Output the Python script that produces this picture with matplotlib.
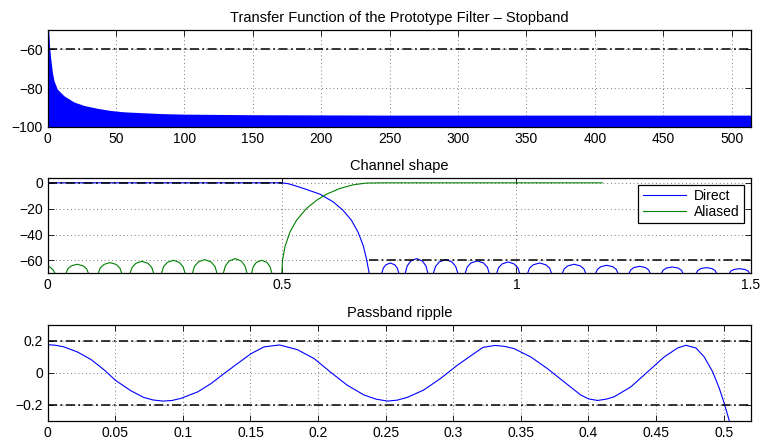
import matplotlib
matplotlib.use("Agg")
import matplotlib.pyplot as plt

plt.rcParams["font.family"] = ["Liberation Sans", "DejaVu Sans"]
plt.rcParams["font.size"] = 10

# stopband of the prototype filter (upper envelope of the dense ripple, dB)
STOP_X = [0, 0.7, 1.4, 2.2, 3.4, 4.6, 7.0, 11.9, 19.2, 26.5, 36.3, 46.0, 55.7,
          70.4, 82.6, 100, 150, 250, 514]
STOP_TOP_DB = [-45, -50, -58.6, -64.7, -71.8, -76.2, -80.5, -84.0, -87.2, -89.0,
               -90.5, -91.6, -92.3, -92.8, -93.2, -93.5, -93.8, -94.0, -94.0]
STOP_LIMIT_DB = -60

# channel shape, direct path (dB)
DIRECT_X = [0, 0.499, 0.512, 0.524, 0.552, 0.581, 0.609, 0.630, 0.648, 0.662, 0.673, 0.680, 0.686, 0.699,
            0.712, 0.716, 0.7215, 0.731, 0.7405, 0.746, 0.750, 0.756,
            0.762, 0.767, 0.7745, 0.787, 0.7995, 0.807, 0.812, 0.817,
            0.822, 0.8275, 0.8355, 0.849, 0.8625, 0.8705, 0.876, 0.883,
            0.890, 0.895, 0.903, 0.9165, 0.930, 0.938, 0.943, 0.950,
            0.957, 0.962, 0.9698, 0.9825, 0.995, 1.003, 1.008, 1.0155,
            1.023, 1.028, 1.036, 1.0495, 1.063, 1.071, 1.076, 1.0865,
            1.097, 1.102, 1.110, 1.123, 1.136, 1.144, 1.149, 1.1585,
            1.168, 1.173, 1.1805, 1.193, 1.2055, 1.213, 1.218, 1.2285,
            1.239, 1.244, 1.251, 1.263, 1.275, 1.282, 1.287, 1.2975,
            1.308, 1.313, 1.320, 1.3325, 1.345, 1.352, 1.357, 1.3695,
            1.382, 1.387, 1.394, 1.4055, 1.417, 1.424, 1.429, 1.441,
            1.453, 1.4575, 1.4645, 1.476, 1.4875, 1.4945, 1.499, 1.5]
DIRECT_DB = [0, 0, -0.6, -1.8, -5.1, -8.8, -14.7, -21.2, -28.9, -38.0, -48.3, -58.6, -70.0, -100,
             -71, -66.0, -63.4, -62.0, -63.4, -66.0, -71, -100,
             -71, -64.3, -60.5, -58.6, -60.5, -64.3, -71, -100,
             -71, -64.7, -61.2, -59.4, -61.2, -64.7, -71, -100,
             -71, -65.2, -62.0, -60.4, -62.0, -65.2, -71, -100,
             -71, -65.6, -62.7, -61.2, -62.7, -65.6, -71, -100,
             -71, -66.0, -63.4, -62.0, -63.4, -66.0, -71, -100,
             -71, -66.5, -64.2, -63.0, -64.2, -66.5, -71, -100,
             -71, -66.9, -64.8, -63.8, -64.8, -66.9, -71, -100,
             -71, -67.3, -65.5, -64.6, -65.5, -67.3, -71, -100,
             -71, -67.6, -65.9, -65.1, -65.9, -67.6, -71, -100,
             -71, -67.8, -66.3, -65.6, -66.3, -67.8, -71, -100,
             -71, -68.2, -67.0, -66.4, -67.0, -68.2, -71, -80]

# channel shape, aliased path (dB)
ALIASED_X = [0, 0.006, 0.012, 0.017, 0.027,
             0.038, 0.043, 0.0505, 0.063, 0.0755, 0.083, 0.088, 0.0975,
             0.107, 0.112, 0.120, 0.133, 0.146, 0.154, 0.159, 0.167,
             0.175, 0.180, 0.188, 0.201, 0.214, 0.222, 0.227, 0.2345,
             0.242, 0.247, 0.255, 0.268, 0.281, 0.289, 0.294, 0.301,
             0.308, 0.313, 0.3215, 0.335, 0.3485, 0.357, 0.362, 0.368,
             0.374, 0.379, 0.387, 0.400, 0.413, 0.421, 0.426, 0.430,
             0.434, 0.4385, 0.445, 0.4565, 0.468, 0.4745, 0.479, 0.490,
             0.499, 0.501, 0.506, 0.517, 0.531, 0.552, 0.574, 0.595, 0.623, 0.652, 0.680, 0.720, 1.183]
ALIASED_DB = [-64.3, -65.5, -67.5, -71, -100,
              -71, -66.5, -64.2, -63.0, -64.2, -66.5, -71, -100,
              -71, -65.9, -63.1, -61.7, -63.1, -65.9, -71, -100,
              -71, -65.4, -62.3, -60.7, -62.3, -65.4, -71, -100,
              -71, -65.0, -61.6, -59.9, -61.6, -65.0, -71, -100,
              -71, -64.7, -61.2, -59.4, -61.2, -64.7, -71, -100,
              -71, -64.3, -60.5, -58.6, -60.5, -64.3, -71, -100,
              -71, -65.0, -61.6, -59.9, -61.6, -65.0, -71, -100,
              -75, -60.0, -49.6, -38.0, -28.9, -19.9, -13.4, -8.8, -4.4, -1.5, -0.2, 0, 0]

# mask lines of the channel shape
MASK_PASS_X = [0, 0.5]
MASK_PASS_DB = 0
MASK_STOP_X = [0.686, 1.5]
MASK_STOP_DB = -60

# passband ripple (dB)
RIPPLE_X = [0, 0.006, 0.012, 0.022, 0.032, 0.042, 0.050, 0.0615, 0.071, 0.078,
            0.0855, 0.092, 0.0985, 0.111, 0.121, 0.1305, 0.1405, 0.1505, 0.160, 0.1715,
            0.1845, 0.197, 0.209, 0.2215, 0.234, 0.243, 0.2515, 0.2585, 0.2659, 0.278,
            0.2906, 0.303, 0.3153, 0.322, 0.331, 0.338, 0.345, 0.3573, 0.3696, 0.3819,
            0.3943, 0.400, 0.4067, 0.413, 0.419, 0.4313, 0.4437, 0.456, 0.4659, 0.4721,
            0.4795, 0.4856, 0.4919, 0.4968, 0.5004, 0.5042, 0.5055]
RIPPLE_DB = [0.177, 0.173, 0.163, 0.131, 0.084, 0.017, -0.046, -0.112, -0.154, -0.170,
             -0.177, -0.173, -0.160, -0.119, -0.066, -0.004, 0.059, 0.121, 0.163, 0.175,
             0.146, 0.090, 0.006, -0.077, -0.139, -0.165, -0.177, -0.171, -0.154, -0.108,
             -0.035, 0.048, 0.121, 0.160, 0.172, 0.166, 0.152, 0.100, 0.027, -0.056,
             -0.139, -0.163, -0.173, -0.165, -0.150, -0.088, 0.006, 0.100, 0.156, 0.173,
             0.156, 0.100, 0.006, -0.098, -0.191, -0.302, -0.34]
RIPPLE_LIMIT = 0.2

DASHDOT = (0, (6, 2.2, 1.2, 2.2))
BLUE = (0, 0, 1)
GREEN = (0, 0.5, 0)


# matlab-like look: ticks inside on every side, dotted grid
def Style_Axes(ax):
    ax.tick_params(direction="in", top=True, right=True, length=4, width=0.6, pad=3.5)
    ax.grid(True, color="0.3", linestyle=(0, (1, 3.5)), linewidth=0.6)
    for sp in ax.spines.values():
        sp.set_linewidth(0.9)
    ax.set_axisbelow(True)


def Plot_Stopband(ax):
    ax.fill_between(STOP_X, STOP_TOP_DB, -120, color=BLUE, linewidth=0)
    ax.axhline(STOP_LIMIT_DB, color="k", linestyle=DASHDOT, linewidth=1.1)
    ax.set_xlim(0, 514)
    ax.set_ylim(-100, -50)
    ax.set_xticks(range(0, 501, 50))
    ax.set_yticks([-100, -80, -60])
    ax.set_title("Transfer Function of the Prototype Filter \u2013 Stopband", fontsize=10.5, pad=5.5)
    Style_Axes(ax)


def Plot_Channel(ax):
    ax.plot(DIRECT_X, DIRECT_DB, color=BLUE, linewidth=0.8, label="Direct")
    ax.plot(ALIASED_X, ALIASED_DB, color=GREEN, linewidth=0.8, label="Aliased")
    ax.plot(MASK_PASS_X, [MASK_PASS_DB] * 2, color="k", linestyle=DASHDOT, linewidth=1.1)
    ax.plot(MASK_STOP_X, [MASK_STOP_DB] * 2, color="k", linestyle=DASHDOT, linewidth=1.1)
    ax.set_xlim(0, 1.5)
    ax.set_ylim(-70, 4)
    ax.set_xticks([0, 0.5, 1, 1.5])
    ax.set_xticklabels(["0", "0.5", "1", "1.5"])
    ax.set_yticks([-60, -40, -20, 0])
    ax.set_title("Channel shape", fontsize=10.5, pad=5.5)
    leg = ax.legend(loc="upper right", fontsize=10, handlelength=3.1, fancybox=False,
                    edgecolor="k", framealpha=1, borderaxespad=0.5, borderpad=0.3,
                    labelspacing=0.15, handletextpad=0.6)
    leg.get_frame().set_linewidth(0.9)
    Style_Axes(ax)


def Plot_Ripple(ax):
    ax.plot(RIPPLE_X, RIPPLE_DB, color=BLUE, linewidth=0.8)
    ax.axhline(RIPPLE_LIMIT, color="k", linestyle=DASHDOT, linewidth=1.1)
    ax.axhline(-RIPPLE_LIMIT, color="k", linestyle=DASHDOT, linewidth=1.1)
    ax.set_xlim(0, 0.52)
    ax.set_ylim(-0.3, 0.3)
    ticks = [0, 0.05, 0.1, 0.15, 0.2, 0.25, 0.3, 0.35, 0.4, 0.45, 0.5]
    ax.set_xticks(ticks)
    ax.set_xticklabels(["0", "0.05", "0.1", "0.15", "0.2", "0.25", "0.3", "0.35", "0.4", "0.45", "0.5"])
    ax.set_yticks([-0.2, 0, 0.2])
    ax.set_yticklabels(["\u22120.2", "0", "0.2"])
    ax.set_title("Passband ripple", fontsize=10.5, pad=5.5)
    Style_Axes(ax)


def main():
    fig = plt.figure(figsize=(7.62, 4.43), dpi=100)
    ax1 = fig.add_axes([0.0626, 0.714, 0.9226, 0.218])
    ax2 = fig.add_axes([0.0626, 0.383, 0.9226, 0.216])
    ax3 = fig.add_axes([0.0626, 0.0503, 0.9226, 0.216])
    Plot_Stopband(ax1)
    Plot_Channel(ax2)
    Plot_Ripple(ax3)
    fig.savefig("out.png", dpi=100)
    plt.close(fig)


if __name__ == "__main__":
    main()
